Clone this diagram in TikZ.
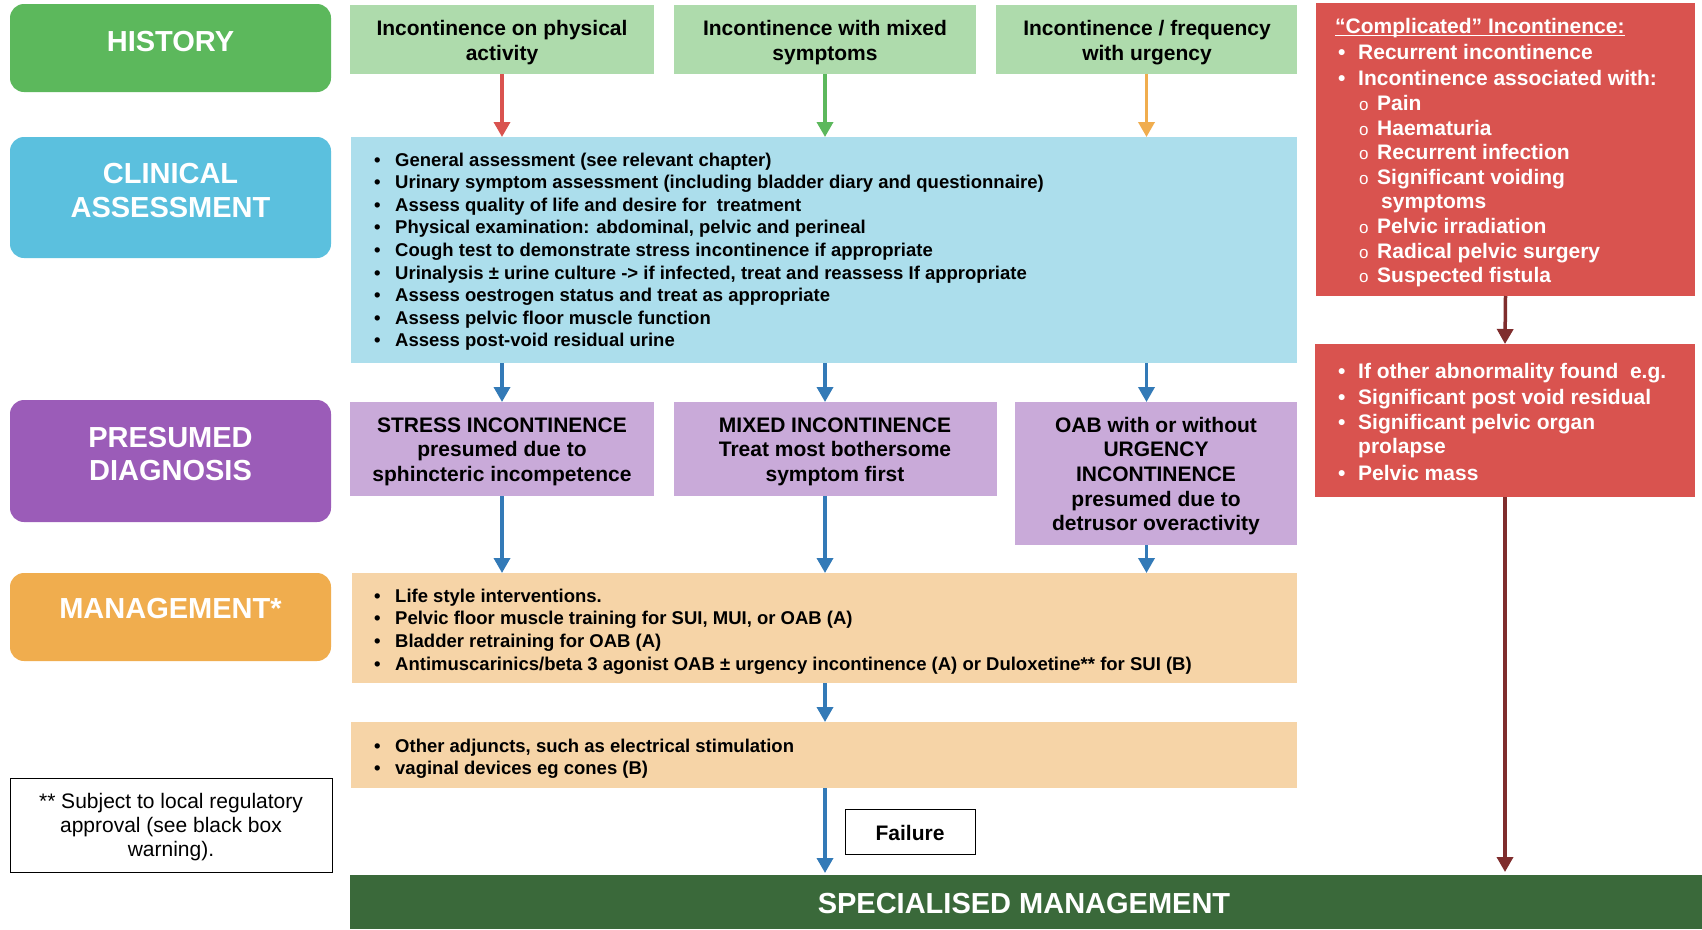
\documentclass[tikz,border=0pt]{standalone}
\usepackage{fontspec}
\setmainfont{Liberation Sans}
\usetikzlibrary{arrows.meta}
\definecolor{hgreen}{HTML}{5CB85C}
\definecolor{lgreen}{HTML}{AEDBAC}
\definecolor{cblue}{HTML}{5BC0DE}
\definecolor{lblue}{HTML}{ACDEEC}
\definecolor{ppurple}{HTML}{9B5CB8}
\definecolor{lpurple}{HTML}{C9AAD9}
\definecolor{morange}{HTML}{F0AD4E}
\definecolor{lorange}{HTML}{F6D4A7}
\definecolor{cred}{HTML}{D9534F}
\definecolor{dred}{HTML}{7F2D2D}
\definecolor{ablue}{HTML}{337AB7}
\definecolor{dgreen}{HTML}{3A693A}
\tikzset{
 panel/.style={rectangle, inner sep=0pt, outer sep=0pt, anchor=north west},
 hdrbox/.style={panel, rounded corners=14pt},
 lbl/.style={inner sep=0pt, font=\fontsize{29}{34}\selectfont\bfseries, text=white, anchor=base},
 ttl/.style={inner sep=0pt, font=\fontsize{21}{25}\selectfont\bfseries, anchor=base},
 itm/.style={inner sep=0pt, font=\fontsize{18.5}{22}\selectfont\bfseries, anchor=base west},
 ritm/.style={inner sep=0pt, font=\fontsize{21}{25}\selectfont\bfseries, text=white, anchor=base west},
 subo/.style={inner sep=0pt, font=\fontsize{17}{20}\selectfont, text=white, anchor=base west},
 note/.style={inner sep=0pt, font=\fontsize{21}{25}\selectfont, anchor=base},
 arr/.style={line width=3.5pt, -{Triangle[width=16pt,length=15pt]}},
}
\begin{document}
\begin{tikzpicture}[x=1pt,y=-1pt]
\useasboundingbox[fill=white] (0,0) rectangle (1702,929);
% header boxes
\node[hdrbox, fill=hgreen, minimum width=321pt, minimum height=88pt] (hH) at (10,4) {};
\node[hdrbox, fill=cblue, minimum width=321pt, minimum height=121pt] (hC) at (10,137) {};
\node[hdrbox, fill=ppurple, minimum width=321pt, minimum height=122pt] (hP) at (10,400) {};
\node[hdrbox, fill=morange, minimum width=321pt, minimum height=88pt] (hM) at (10,573) {};
\node[panel, draw=black, line width=1pt, minimum width=322pt, minimum height=94pt] (fn) at (10,778) {};
% history boxes
\node[panel, fill=lgreen, minimum width=304pt, minimum height=69pt] (h1) at (350,5) {};
\node[panel, fill=lgreen, minimum width=302pt, minimum height=69pt] (h2) at (674,5) {};
\node[panel, fill=lgreen, minimum width=301pt, minimum height=69pt] (h3) at (996,5) {};
% clinical
\node[panel, fill=lblue, minimum width=946pt, minimum height=226pt] (ca) at (351,137) {};
% diagnosis
\node[panel, fill=lpurple, minimum width=304pt, minimum height=94pt] (d1) at (350,402) {};
\node[panel, fill=lpurple, minimum width=323pt, minimum height=94pt] (d2) at (674,402) {};
\node[panel, fill=lpurple, minimum width=282pt, minimum height=143pt] (d3) at (1015,402) {};
% management
\node[panel, fill=lorange, minimum width=945pt, minimum height=110pt] (m1) at (352,573) {};
\node[panel, fill=lorange, minimum width=946pt, minimum height=66pt] (m2) at (351,722) {};
% failure & specialised
\node[panel, fill=white, draw=black, line width=1pt, minimum width=130pt, minimum height=45pt] (fl) at (845,809) {};
\node[panel, fill=dgreen, minimum width=1352pt, minimum height=54pt] (sm) at (350,875) {};
% red boxes
\node[panel, fill=cred, minimum width=379pt, minimum height=293pt] (r1) at (1316,3) {};
\node[panel, fill=cred, minimum width=380pt, minimum height=153pt] (r2) at (1315,344) {};
% arrows
\draw[arr, cred] (h1.south) -- (h1.south |- ca.north);
\draw[arr, hgreen] (h2.south) -- (h2.south |- ca.north);
\draw[arr, morange] (h3.south) -- (h3.south |- ca.north);
\draw[arr, ablue] (ca.south -| h1.south) -- (d1.north -| h1.south);
\draw[arr, ablue] (ca.south -| h2.south) -- (d2.north -| h2.south);
\draw[arr, ablue] (ca.south -| h3.south) -- (d3.north -| h3.south);
\draw[arr, ablue] (d1.south -| h1.south) -- (m1.north -| h1.south);
\draw[arr, ablue] (d2.south -| h2.south) -- (m1.north -| h2.south);
\draw[arr, ablue] (d3.south -| h3.south) -- (m1.north -| h3.south);
\draw[arr, ablue] (m1.south -| h2.south) -- (m2.north -| h2.south);
\draw[arr, ablue] (m2.south -| h2.south) -- ([yshift=2pt]sm.north -| h2.south);
\draw[arr, dred] (r1.south) -- (r2.north);
\draw[arr, dred] (r2.south) -- ([yshift=3pt]r2.south |- sm.north);
% header labels
\node[lbl] (tH) at (170.5,51) {HISTORY};
\node[lbl] (tC1) at (170.5,183) {CLINICAL};
\node[lbl] (tC2) at (170.5,217) {ASSESSMENT};
\node[lbl] (tP1) at (170.5,447) {PRESUMED};
\node[lbl] (tP2) at (170.5,480) {DIAGNOSIS};
\node[lbl] (tM) at (170.5,618) {MANAGEMENT*};
% history texts
\node[ttl] (t11) at (502,35) {Incontinence on physical};
\node[ttl] (t12) at (502,60) {activity};
\node[ttl] (t21) at (825,35) {Incontinence with mixed};
\node[ttl] (t22) at (825,60) {symptoms};
\node[ttl] (t31) at (1147,35) {Incontinence / frequency};
\node[ttl] (t32) at (1147,60) {with urgency};
% clinical items
\foreach \t [count=\i] in {{General assessment (see relevant chapter)},
 {Urinary symptom assessment (including bladder diary and questionnaire)},
 {Assess quality of life and desire for\ \ treatment},
 {Physical examination: abdominal, pelvic and perineal},
 {Cough test to demonstrate stress incontinence if appropriate},
 {Urinalysis ± urine culture -> if infected, treat and reassess If appropriate},
 {Assess oestrogen status and treat as appropriate},
 {Assess pelvic floor muscle function},
 {Assess post-void residual urine}}{
 \node[itm] (cb\i) at (374,{166+22.6*(\i-1)}) {•};
 \node[itm] (ct\i) at (395,{166+22.6*(\i-1)}) {\t};
}
% diagnosis texts
\node[ttl] (dt11) at (502,432) {STRESS INCONTINENCE};
\node[ttl] (dt12) at (502,456) {presumed due to};
\node[ttl] (dt13) at (502,481) {sphincteric incompetence};
\node[ttl] (dt21) at (835,432) {MIXED INCONTINENCE};
\node[ttl] (dt22) at (835,456) {Treat most bothersome};
\node[ttl] (dt23) at (835,481) {symptom first};
\node[ttl] (dt31) at (1156,432) {OAB with or without};
\node[ttl] (dt32) at (1156,456) {URGENCY};
\node[ttl] (dt33) at (1156,481) {INCONTINENCE};
\node[ttl] (dt34) at (1156,506) {presumed due to};
\node[ttl] (dt35) at (1156,530) {detrusor overactivity};
% management items
\foreach \t [count=\i] in {{Life style interventions.},
 {Pelvic floor muscle training for SUI, MUI, or OAB (A)},
 {Bladder retraining for OAB (A)},
 {Antimuscarinics/beta 3 agonist OAB ± urgency incontinence (A) or Duloxetine** for SUI (B)}}{
 \node[itm] (mb\i) at (374,{602+22.7*(\i-1)}) {•};
 \node[itm] (mt\i) at (395,{602+22.7*(\i-1)}) {\t};
}
\foreach \t [count=\i] in {{Other adjuncts, such as electrical stimulation},
 {vaginal devices eg cones (B)}}{
 \node[itm] (ob\i) at (374,{752+22.5*(\i-1)}) {•};
 \node[itm] (ot\i) at (395,{752+22.5*(\i-1)}) {\t};
}
% failure, specialised, footnote
\node[ttl] (flt) at (910,840) {Failure};
\node[lbl] (smt) at (1024,913) {SPECIALISED MANAGEMENT};
\node[note] (fn1) at (171,808) {** Subject to local regulatory};
\node[note] (fn2) at (171,832) {approval (see black box};
\node[note] (fn3) at (171,856) {warning).};
% red box 1
\node[ritm] (rt) at (1335,33) {“Complicated” Incontinence:};
\draw[white, line width=1.4pt] ([yshift=-2.5pt]rt.base west) -- ([yshift=-2.5pt]rt.base east);
\node[ritm] (rb1) at (1338,59) {•};
\node[ritm] (ri1) at (1358,59) {Recurrent incontinence};
\node[ritm] (rb2) at (1338,85) {•};
\node[ritm] (ri2) at (1358,85) {Incontinence associated with:};
\foreach \t/\yy [count=\i] in {Pain/110, Haematuria/135, Recurrent infection/159, Significant voiding/184, Pelvic irradiation/233, Radical pelvic surgery/258, Suspected fistula/282}{
 \node[subo] (so\i) at (1359,\yy) {o};
 \node[ritm] (st\i) at (1377,\yy) {\t};
}
\node[ritm] (st9) at (1381,208) {symptoms};
% red box 2
\node[ritm] (qb1) at (1338,378) {•};
\node[ritm] (qt1) at (1358,378) {If other abnormality found\ \ e.g.};
\node[ritm] (qb2) at (1338,404) {•};
\node[ritm] (qt2) at (1358,404) {Significant post void residual};
\node[ritm] (qb3) at (1338,429) {•};
\node[ritm] (qt3) at (1358,429) {Significant pelvic organ};
\node[ritm] (qt4) at (1358,453) {prolapse};
\node[ritm] (qb5) at (1338,480) {•};
\node[ritm] (qt5) at (1358,480) {Pelvic mass};
\end{tikzpicture}
\end{document}
